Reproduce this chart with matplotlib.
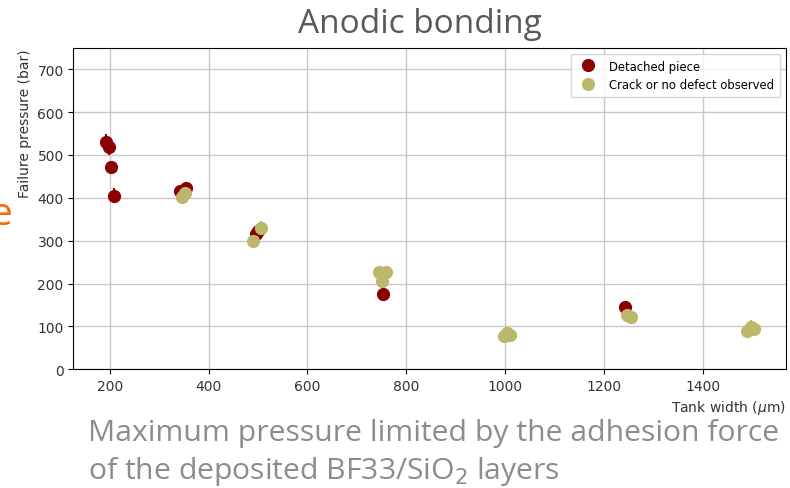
import matplotlib.pyplot as plt

# Detached piece
det_width = [192, 198, 203, 208, 343, 355, 495, 500, 752, 1243]
det_press = [530, 518, 472, 405, 415, 423, 315, 322, 175, 145]
det_err = [18, 18, 15, 18, 15, 15, 15, 15, 12, 15]

# Crack or no defect observed
ok_width = [347, 352, 490, 506, 744, 750, 758, 998, 1004, 1010, 1247, 1254, 1490, 1497, 1503]
ok_press = [403, 411, 300, 330, 226, 205, 226, 78, 84, 80, 126, 121, 88, 99, 94]
ok_err = [15, 15, 15, 15, 15, 15, 15, 15, 15, 15, 15, 15, 15, 15, 15]

y_ticks = [0, 100, 200, 300, 400, 500, 600, 700]
x_ticks = [200, 400, 600, 800, 1000, 1200, 1400]

fig = plt.figure(figsize=(7.9, 4.89), dpi=100)
fig.patch.set_facecolor('white')

ax = fig.add_axes([0.093, 0.243, 0.902, 0.657])
ax.grid(True, color='#c8c8c8', linewidth=1)
ax.set_axisbelow(True)

ax.errorbar(det_width, det_press, yerr=det_err, fmt='o', color='darkred',
            ms=8.5, elinewidth=1.5, capsize=0, label='Detached piece')
ax.errorbar(ok_width, ok_press, yerr=ok_err, fmt='o', color='darkkhaki',
            ms=8.5, elinewidth=1.5, capsize=0, label='Crack or no defect observed')

ax.set_ylim(0, 750)
ax.set_yticks(y_ticks)
ax.set_xticks(x_ticks)
ax.tick_params(labelsize=10, labelcolor='#333333')
ax.set_xlabel(r'Tank width ($\mu$m)', fontsize=10, loc='right', color='#333333')
ax.set_ylabel('Failure pressure (bar)', fontsize=10, loc='top', color='#333333')

ax.legend(loc='upper right', fontsize=8.4, handletextpad=0.8, borderpad=0.5,
          framealpha=0.8)

# slide decorations around the embedded chart
fig.text(0.532, 0.95, 'Anodic bonding', ha='center', va='center',
         fontsize=24, color='#595959', family='Open Sans')
fig.text(0.111, 0.114, 'Maximum pressure limited by the adhesion force',
         ha='left', va='center', fontsize=21.7, color='#8c8c8c', family='Open Sans')
fig.text(0.111, 0.036, r'of the deposited BF33/SiO$_2$ layers',
         ha='left', va='center', fontsize=21.7, color='#8c8c8c', family='Open Sans')
fig.text(-0.012, 0.56, 'e', ha='left', va='center', fontsize=28,
         color='#ff6600', family='Open Sans')

fig.savefig('out.png', dpi=100)
